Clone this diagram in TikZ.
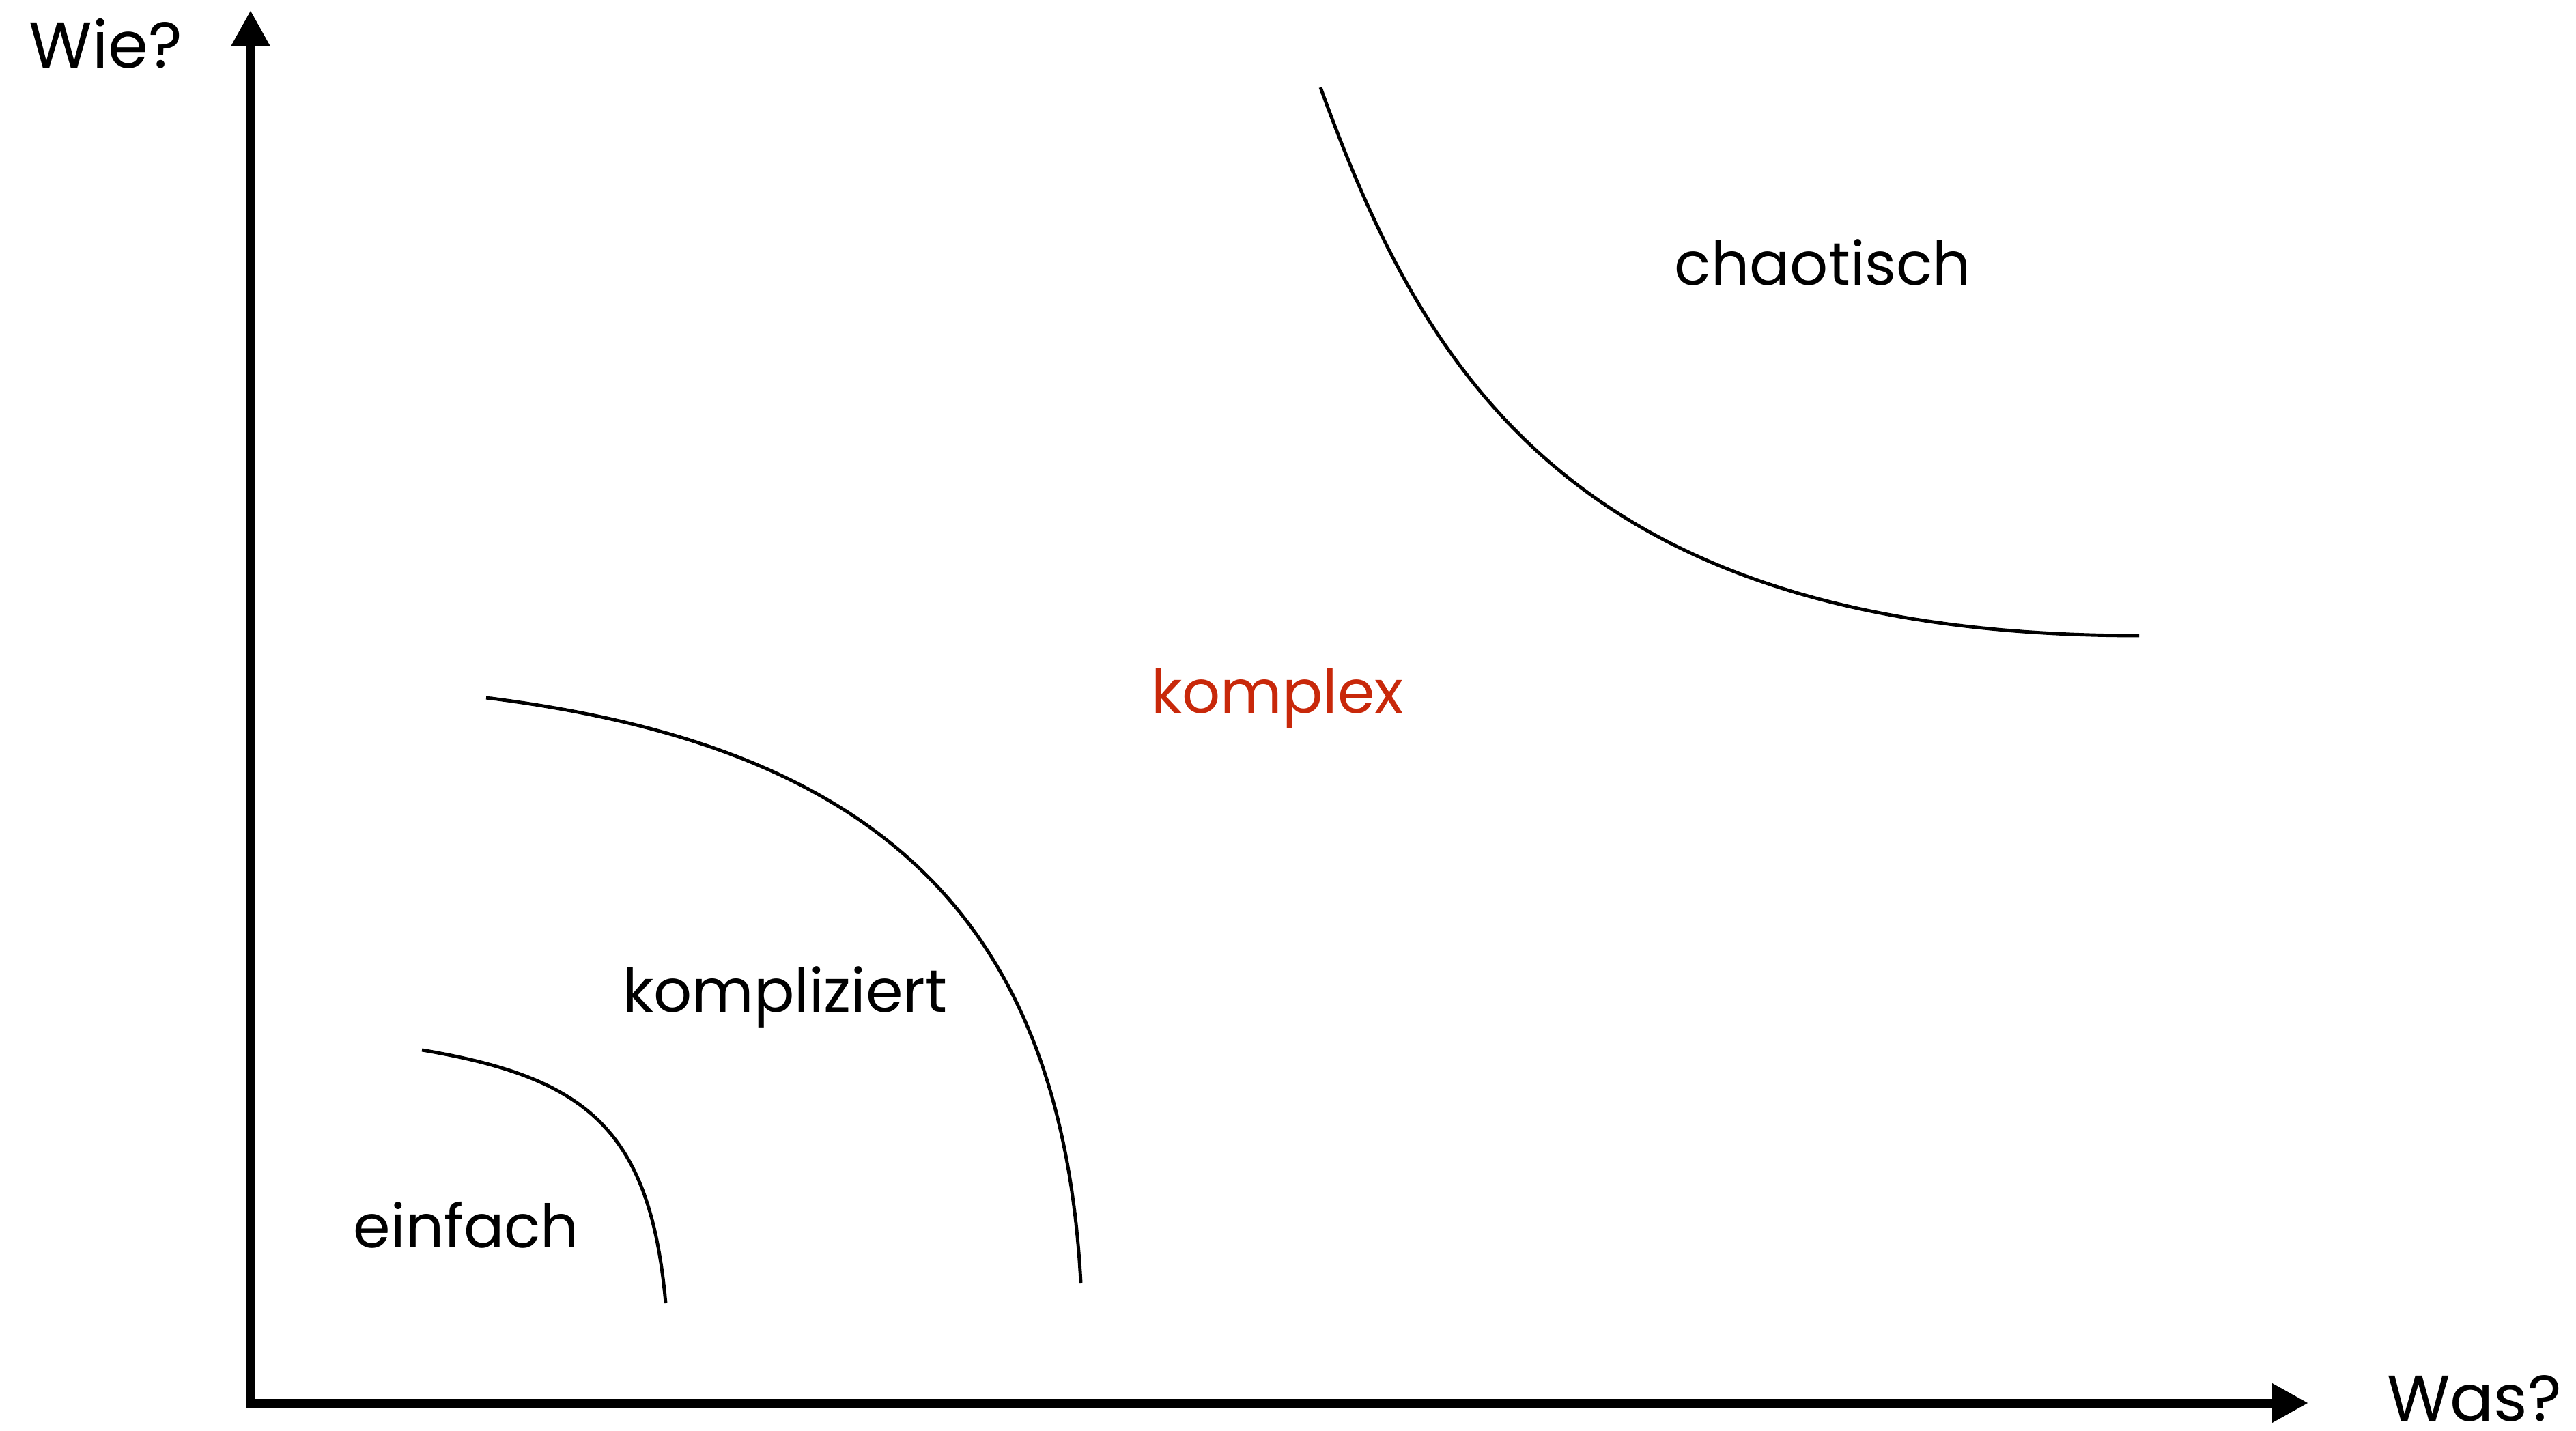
\documentclass[tikz,border=0pt]{standalone}
\usepackage{fontspec}
\setmainfont{Poppins}
\usetikzlibrary{arrows.meta}
\usetikzlibrary{calc}
\definecolor{komplexred}{RGB}{200,40,10}

\begin{document}
\begin{tikzpicture}

% Define styles
\tikzset{
    axis/.style={line width=1.3mm, -{Triangle[length=5.3mm, width=5.4mm]}},
    border/.style={line width=1.4pt},
    fieldlabel/.style={inner sep=0pt, anchor=base, font=\fontsize{25}{30}\selectfont},
    axislabel/.style={inner sep=0pt, anchor=base, font=\fontsize{27}{32}\selectfont}
}

% zeige den ganzen Bereich
\useasboundingbox (0,0) rectangle (37.73,20.95);

% origin of the axes
\coordinate (O) at (3.67,0.40);

% tips of the axes
\coordinate (YTIP) at (3.67,20.80);
\coordinate (XTIP) at (33.81,0.40);

% Axes
\draw[axis] ($(O)+(0,-0.065)$) -- (YTIP);
\draw[axis] (O) -- (XTIP);

\node[axislabel] (WIE) at (1.55,19.95) {Wie?};
\node[axislabel] (WAS) at (36.24,0.14) {Was?};

% end points of the borders
\coordinate (E1) at (6.18,5.57);
\coordinate (E2) at (9.75,1.86);

\coordinate (K1) at (7.12,10.73);
\coordinate (K2) at (15.83,2.16);

\coordinate (C1) at (19.34,19.67);
\coordinate (C2) at (31.33,11.64);

% Borders between the fields
\draw[border] (E1) .. controls (8.55,5.17) and (9.52,4.45) .. (E2);

\draw[border] (K1) .. controls (12.68,10.04) and (15.54,7.65) .. (K2);

\draw[border] (C1) .. controls (20.84,15.53) and (23.03,11.64) .. (C2);

% Field labels
\node[fieldlabel] (EINFACH) at (6.83,2.68) {einfach};
\node[fieldlabel] (KOMPLIZIERT) at (11.50,6.13) {kompliziert};
\node[fieldlabel, text=komplexred] (KOMPLEX) at (18.71,10.50) {komplex};
\node[fieldlabel] (CHAOTISCH) at (26.70,16.77) {chaotisch};

\end{tikzpicture}
\end{document}
